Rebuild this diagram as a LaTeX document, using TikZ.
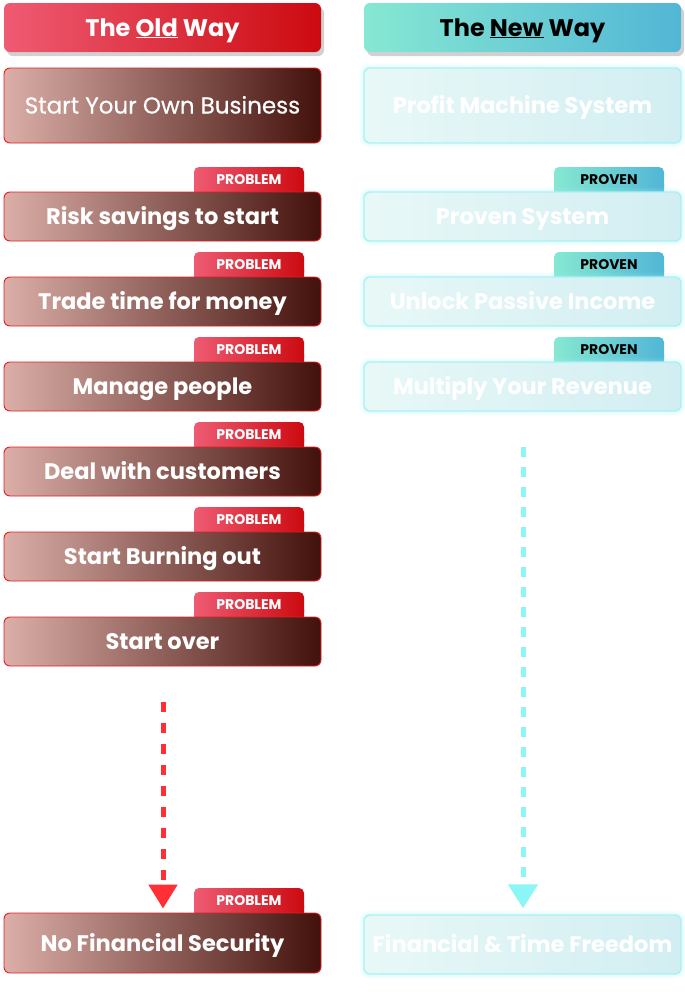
\documentclass[tikz,border=0pt]{standalone}
\usepackage{fontspec}
\setmainfont{Poppins}
\newfontfamily\medfont[FakeBold=0.5]{Poppins}
\usetikzlibrary{shadows,arrows.meta}
\definecolor{oldHL}{HTML}{EF5B73}
\definecolor{oldHR}{HTML}{CC0A10}
\definecolor{oldL}{HTML}{DBAFA8}
\definecolor{oldR}{HTML}{43110B}
\definecolor{oldB}{HTML}{E81B23}
\definecolor{newHL}{HTML}{86E8D2}
\definecolor{newHR}{HTML}{52B6D6}
\definecolor{newL}{HTML}{E8F8F7}
\definecolor{newR}{HTML}{D2EEF2}
\definecolor{newB}{HTML}{A8F2F6}
\definecolor{glowc}{HTML}{9FF3F3}
\definecolor{redarrow}{HTML}{FF2F35}
\definecolor{cyanarrow}{HTML}{8CF6F6}
\begin{document}
\begin{tikzpicture}[x=1pt,y=-1pt,
  hdr/.style={rounded corners=6pt, minimum width=317pt, minimum height=49pt, inner sep=0pt,
    font=\fontsize{24}{28}\selectfont\bfseries, text height=17pt, text depth=0pt,
    drop shadow={shadow xshift=3pt, shadow yshift=-4pt, opacity=0.18, fill=black}},
  oldhdr/.style={hdr, left color=oldHL, right color=oldHR, text=white},
  newhdr/.style={hdr, left color=newHL, right color=newHR, text=black},
  oldbox/.style={rounded corners=6pt, draw=oldB, line width=0.9pt, left color=oldL, right color=oldR,
    minimum width=317pt, minimum height=49pt, inner sep=0pt, text=white,
    font=\fontsize{22.5}{26}\selectfont\bfseries, text height=16pt, text depth=0pt},
  newbox/.style={rounded corners=6pt, draw=newB, line width=1.4pt, left color=newL, right color=newR,
    minimum width=317pt, minimum height=49pt, inner sep=0pt, text=white,
    font=\fontsize{22.5}{26}\selectfont\bfseries, text height=16pt, text depth=0pt,
    preaction={draw=glowc, line width=9pt, opacity=0.10},
    preaction={draw=glowc, line width=5pt, opacity=0.15}},
  probbadge/.style={rounded corners=5pt, left color=oldHL, right color=oldHR, text=white,
    minimum width=110pt, minimum height=25pt, inner sep=0pt,
    font=\fontsize{14}{16}\selectfont\bfseries, text height=10pt, text depth=0pt},
  provbadge/.style={rounded corners=5pt, left color=newHL, right color=newHR, text=black,
    minimum width=110pt, minimum height=25pt, inner sep=0pt,
    font=\fontsize{14}{16}\selectfont\bfseries, text height=10pt, text depth=0pt},
  reddash/.style={draw=redarrow, line width=5pt, dash pattern=on 10pt off 11pt,
    -{Triangle[width=28pt,length=24pt]}, shorten >=4pt},
  cyandash/.style={draw=cyanarrow, line width=5pt, dash pattern=on 10pt off 10pt,
    -{Triangle[width=29pt,length=24pt]}, shorten >=6pt}
]
\useasboundingbox (0,0) rectangle (685,1002);

% headers
\node[oldhdr] (hold) at (162.5,27.5) {The \underline{Old} Way};
\node[newhdr] (hnew) at (522.5,27.5) {The \underline{New} Way};

% first boxes
\node[oldbox, minimum height=75pt, font=\fontsize{23}{27}\medfont] (o0) at (162.5,105.5) {Start Your Own Business};
\node[newbox, minimum height=75pt] (n0) at (522.5,105.5) {Profit Machine System};

% old way badges (bottom filler + rounded badge)
\foreach \k in {0,...,5}{
  \shade[left color=oldHL, right color=oldHR] (194,184+85*\k) rectangle (304,197+85*\k);
  \node[probbadge] (pb\k) at (249,179.5+85*\k) {PROBLEM};
}
\shade[left color=oldHL, right color=oldHR] (194,905) rectangle (304,918);
\node[probbadge] (pbf) at (249,900.5) {PROBLEM};

% new way badges
\foreach \k in {0,...,2}{
  \shade[left color=newHL, right color=newHR] (554,184+85*\k) rectangle (664,197+85*\k);
  \node[provbadge] (vb\k) at (609,179.5+85*\k) {PROVEN};
}

% old way rows
\node[oldbox] (o1) at (162.5,216.5) {Risk savings to start};
\node[oldbox] (o2) at (162.5,301.5) {Trade time for money};
\node[oldbox] (o3) at (162.5,386.5) {Manage people};
\node[oldbox] (o4) at (162.5,471.5) {Deal with customers};
\node[oldbox] (o5) at (162.5,556.5) {Start Burning out};
\node[oldbox] (o6) at (162.5,641.5) {Start over};
\node[oldbox, minimum height=60pt] (of) at (162.5,943) {No Financial Security};

% new way rows
\node[newbox] (n1) at (522.5,216.5) {Proven System};
\node[newbox] (n2) at (522.5,301.5) {Unlock Passive Income};
\node[newbox] (n3) at (522.5,386.5) {Multiply Your Revenue};
\node[newbox, minimum height=59pt] (nf) at (522.5,944.5) {Financial \& Time Freedom};

% arrows
\coordinate (rs) at (163,702);
\coordinate (cs) at (523,447);
\draw[reddash] (rs) -- (rs |- of.north);
\draw[cyandash] (cs) -- (cs |- nf.north);
\end{tikzpicture}
\end{document}
